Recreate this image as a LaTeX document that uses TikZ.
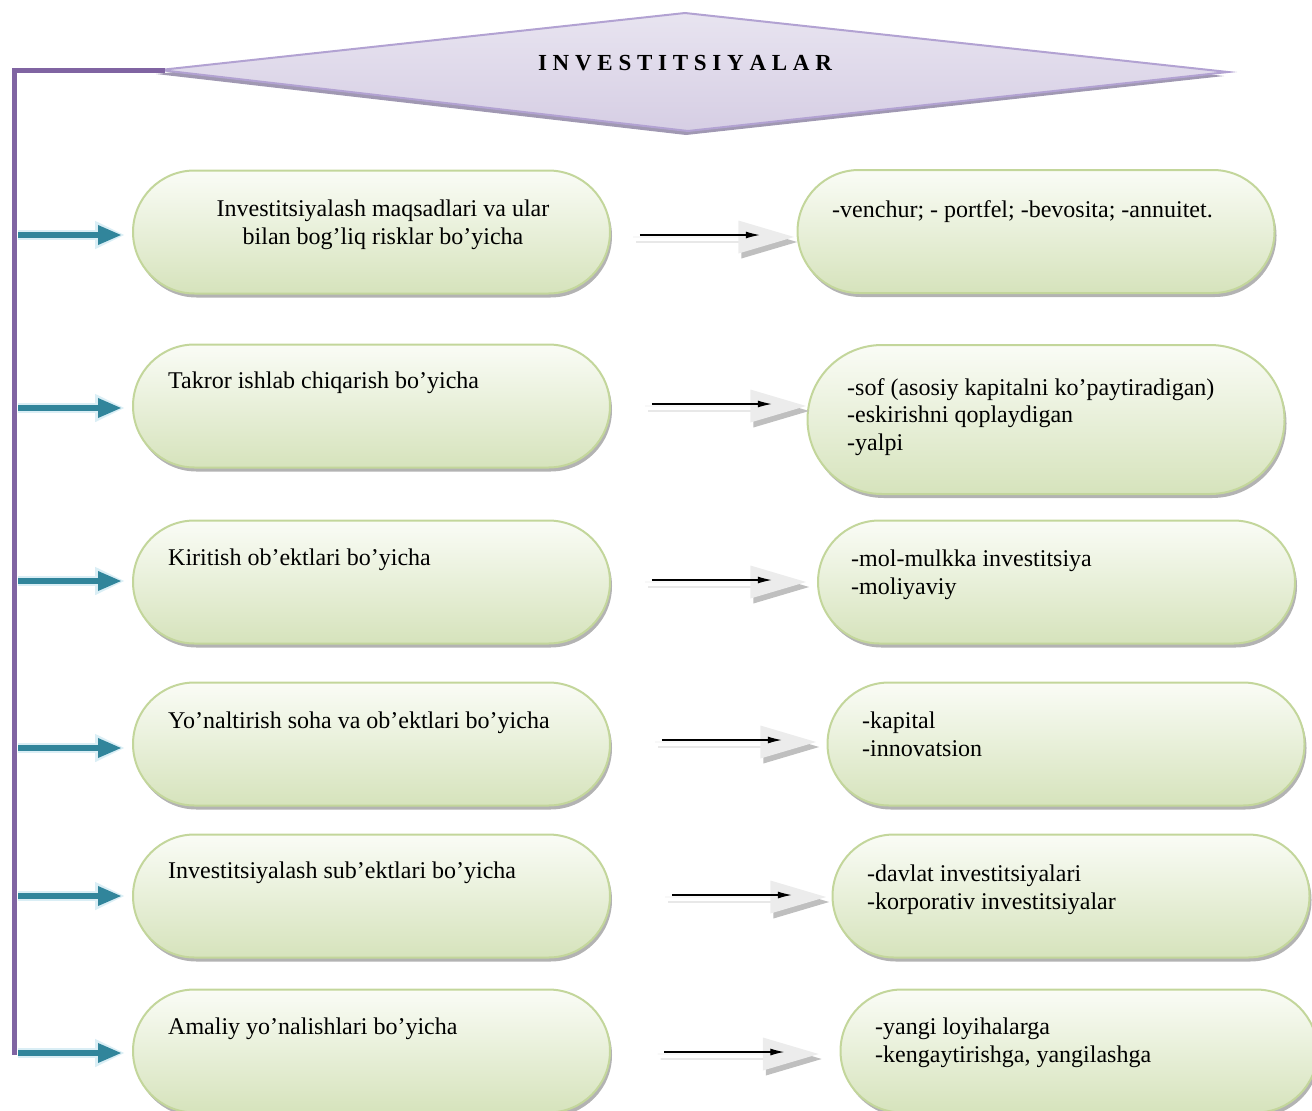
\documentclass[tikz,border=0pt]{standalone}
\usepackage{fontspec}
\setmainfont{Liberation Serif}
\usetikzlibrary{positioning,arrows.meta,calc,shapes.misc,shapes.arrows,shadows}
\definecolor{spine}{RGB}{128,100,162}
\definecolor{bantop}{RGB}{232,228,240}
\definecolor{banbot}{RGB}{214,206,228}
\definecolor{banline}{RGB}{178,162,210}
\definecolor{banshade}{RGB}{160,152,178}
\definecolor{leaftop}{RGB}{250,252,246}
\definecolor{leafbot}{RGB}{214,227,188}
\definecolor{leafline}{RGB}{195,214,155}
\definecolor{feedteal}{RGB}{49,133,155}
\definecolor{tealglow}{RGB}{218,238,245}
\definecolor{pale}{RGB}{236,236,236}

\begin{document}
\begin{tikzpicture}[x=1pt,y=-1pt,>=Latex,
    every node/.style={font=\fontsize{24}{27.5}\selectfont},
    leaf/.style={rounded rectangle,draw=leafline,line width=2pt,top color=leaftop,bottom color=leafbot,
      minimum width=477,minimum height=123,inner sep=0,
      drop shadow={shadow xshift=2pt,shadow yshift=-4pt,fill=black!50,opacity=.6}},
    txt/.style={inner sep=0,align=left,anchor=north west},
    feed/.style={line width=6pt,draw=feedteal,-{Triangle[length=24pt,width=18pt]}},
    glow/.style={line width=10pt,draw=tealglow,-{Triangle[length=30pt,width=26pt]}},
    pass/.style={single arrow,fill=pale,minimum height=161,minimum width=33,inner sep=0,
      single arrow head extend=8.5,single arrow tip angle=33,
      drop shadow={shadow xshift=3pt,shadow yshift=-5pt,fill=black!25,opacity=1}},
    thru/.style={line width=1.2pt,-{Latex[length=14pt,width=7pt]}}]
  \useasboundingbox (0,0) rectangle (1312,1111);

  \fill[banshade] (156,74) -- (685,17) -- (1224,76) -- (686,135) -- cycle;
  \draw[banline,line width=2pt,top color=bantop,bottom color=banbot]
    (160,70) -- (685,13) -- (1228,72) -- (688,131) -- cycle;
  \node[font=\bfseries\fontsize{23}{26}\selectfont] (title) at (685,63) {I N V E S T I T S I Y A L A R};

  \coordinate (root) at (165,70);
  \coordinate (foot) at (14,1055);
  \draw[spine,line width=5pt] (root) -- (root -| foot) -- (foot);

  \node[leaf] (k1) at (371.5,232) {};
  \node[leaf] (k2) at (371.5,406) {};
  \node[leaf] (k3) at (371.5,582) {};
  \node[leaf] (k4) at (371.5,744) {};
  \node[leaf] (k5) at (371.5,896) {};
  \node[leaf] (k6) at (371.5,1051) {};

  \node[align=center,inner sep=0] (k1t) at (383,225) {Investitsiyalash maqsadlari va ular\\bilan bog’liq risklar bo’yicha};
  \node[txt] (k2t) at (168,372) {Takror ishlab chiqarish bo’yicha};
  \node[txt] (k3t) at (168,549) {Kiritish ob’ektlari bo’yicha};
  \node[txt] (k4t) at (168,712) {Yo’naltirish soha va ob’ektlari bo’yicha};
  \node[txt] (k5t) at (168,862) {Investitsiyalash sub’ektlari bo’yicha};
  \node[txt] (k6t) at (168,1018) {Amaliy yo’nalishlari bo’yicha};

  \node[leaf] (v1) at (1036,231.5) {};
  \node[leaf,minimum height=149] (v2) at (1046,419.5) {};
  \node[leaf] (v3) at (1056.5,582) {};
  \node[leaf] (v4) at (1066,744) {};
  \node[leaf] (v5) at (1071,896) {};
  \node[leaf] (v6) at (1079,1051) {};

  \node[txt] (v1t) at (832,200) {-venchur; - portfel; -bevosita; -annuitet.};
  \node[txt] (v2t) at (847,378) {-sof (asosiy kapitalni ko’paytiradigan)\\-eskirishni qoplaydigan\\-yalpi};
  \node[txt] (v3t) at (851,550) {-mol-mulkka investitsiya\\-moliyaviy};
  \node[txt] (v4t) at (862,712) {-kapital\\-innovatsion};
  \node[txt] (v5t) at (867,865) {-davlat investitsiyalari\\-korporativ investitsiyalar};
  \node[txt] (v6t) at (875,1018) {-yangi loyihalarga\\-kengaytirishga, yangilashga};

  \node[pass] (p1) at (713,237) {};
  \node[pass] (p2) at (725,406) {};
  \node[pass] (p3) at (725,582) {};
  \node[pass] (p4) at (735,742) {};
  \node[pass] (p5) at (745,897) {};
  \node[pass] (p6) at (737.5,1054) {};

  \foreach \i in {1,...,6}
    \draw[thru] ([xshift=7pt,yshift=2pt]p\i.tail) -- ([xshift=-35pt,yshift=2pt]p\i.tip);

  \foreach \i/\y in {1/235,2/408,3/581,4/748,5/896,6/1053}{
    \coordinate (s\i) at (18,\y);
    \draw[glow] (s\i) -- ([xshift=-7pt]s\i -| k\i.west);
    \draw[feed] (s\i) -- ([xshift=-10pt]s\i -| k\i.west);
  }
\end{tikzpicture}
\end{document}
